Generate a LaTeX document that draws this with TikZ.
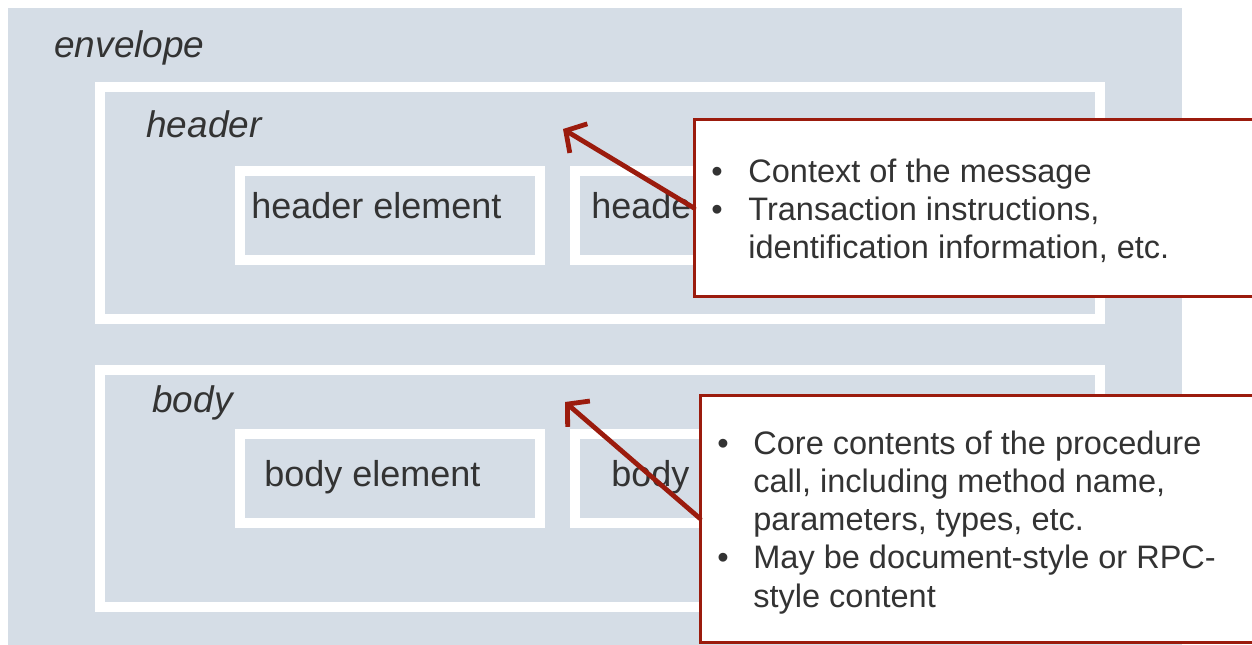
\documentclass[tikz,border=0pt]{standalone}
\usepackage{fontspec}
\setmainfont{Liberation Sans}
\usetikzlibrary{arrows.meta}
\definecolor{envbg}{HTML}{D5DDE6}
\definecolor{callred}{HTML}{9B1B0D}
\definecolor{txtgray}{HTML}{333333}
\begin{document}
\begin{tikzpicture}[x=0.5pt,y=-0.5pt,
  wframe/.style={draw=white, line width=5pt, fill=envbg},
  lbl/.style={anchor=base west, inner sep=0pt, text=txtgray, font=\fontsize{18.5}{22}\selectfont\itshape},
  eltxt/.style={anchor=base west, inner sep=0pt, text=txtgray, font=\fontsize{18}{22}\selectfont},
  ctxt/.style={anchor=base west, inner sep=0pt, text=txtgray, font=\fontsize{16.25}{19.5}\selectfont},
  callout/.style={draw=callred, line width=1.5pt, fill=white, anchor=north west, inner sep=0pt, outer sep=0pt, minimum width=295pt},
  pointer/.style={draw=callred, line width=2.4pt, line cap=round, -{Straight Barb[length=7.5pt,width=17pt,line width=2.4pt]}}
]
\clip (0,0) rectangle (1252,644);
\fill[white] (0,0) rectangle (1252,644);
% envelope
\fill[envbg] (8,8) rectangle (1182,660);
\node[lbl] (envlbl) at (54,57) {envelope};
% header
\draw[wframe] (100,86.5) rectangle (1100,318.5);
\node[lbl] (hdrlbl) at (146,137) {header};
\draw[wframe] (239.5,170.5) rectangle (540,259.5);
\node[eltxt] (he1) at (251,218) {header element};
\draw[wframe] (575,170.5) rectangle (875,259.5);
\node[eltxt] (he2) at (591,218) {header element};
% body
\draw[wframe] (100,369.5) rectangle (1100,606.5);
\node[lbl] (bodylbl) at (152,412) {body};
\draw[wframe] (239.5,433.5) rectangle (540,522.5);
\node[eltxt] (be1) at (264,486) {body element};
\draw[wframe] (575,433.5) rectangle (875,522.5);
\node[eltxt] (be2) at (611,486) {body element};
% callouts
\coordinate (t1) at (563,129);
\coordinate (t2) at (565,402);
\node[callout, minimum height=88.5pt] (c1) at (694,119.5) {};
\node[callout, minimum height=123.5pt] (c2) at (700,395) {};
\draw[pointer] (c1.west) -- (t1);
\draw[pointer] (c2.west) -- (t2);
% callout 1 text
\node[ctxt] (c1b1) at (711,182) {•};
\node[ctxt] (c1l1) at (748,182) {Context of the message};
\node[ctxt] (c1b2) at (711,220) {•};
\node[ctxt] (c1l2) at (748,220) {Transaction instructions,};
\node[ctxt] (c1l3) at (748,258) {identification information, etc.};
% callout 2 text
\node[ctxt] (c2b1) at (717,454) {•};
\node[ctxt] (c2l1) at (753,454) {Core contents of the procedure};
\node[ctxt] (c2l2) at (753,492) {call, including method name,};
\node[ctxt] (c2l3) at (753,530) {parameters, types, etc.};
\node[ctxt] (c2b2) at (717,568) {•};
\node[ctxt] (c2l4) at (753,568) {May be document-style or RPC-};
\node[ctxt] (c2l5) at (753,607) {style content};
\end{tikzpicture}
\end{document}
